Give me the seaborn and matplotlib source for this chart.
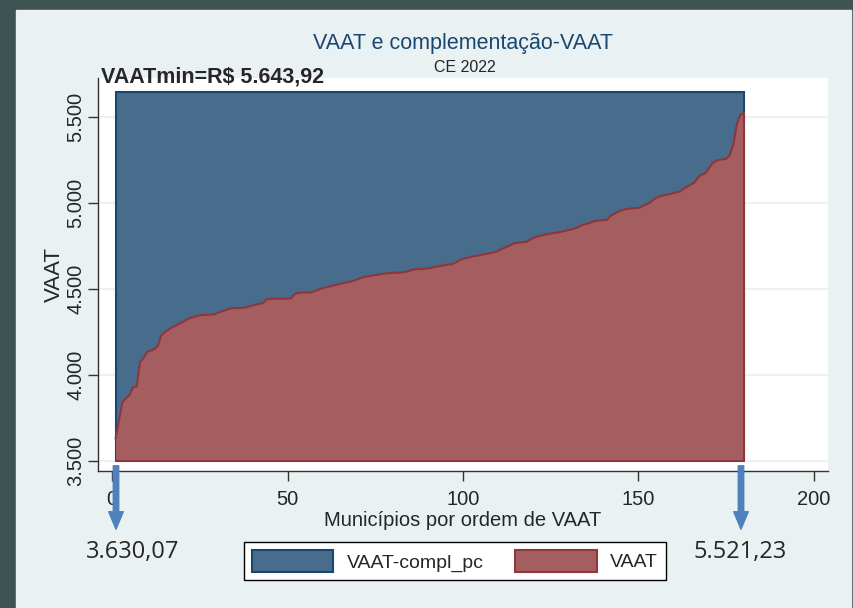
import numpy as np
import pandas as pd
import matplotlib
matplotlib.use("Agg")
import matplotlib.pyplot as plt
import seaborn as sns
from matplotlib.patches import Patch, Rectangle

# Dados: VAAT por município (CE 2022), ordenado
vaat = [
    3630.07, 3740, 3845, 3865, 3884, 3930, 3932, 4077, 4100, 4135,
    4142, 4150, 4168, 4230, 4250, 4262, 4277, 4285, 4298, 4306,
    4318, 4330, 4336, 4342, 4347, 4349, 4350, 4351, 4352, 4360,
    4368, 4375, 4382, 4388, 4389, 4390, 4391, 4392, 4398, 4404,
    4410, 4414, 4418, 4440, 4442, 4443, 4443, 4444, 4444, 4445,
    4446, 4470, 4478, 4479, 4480, 4480, 4482, 4490, 4498, 4505,
    4510, 4515, 4520, 4525, 4530, 4535, 4540, 4543, 4550, 4558,
    4565, 4571, 4574, 4578, 4582, 4585, 4588, 4591, 4592, 4594,
    4595, 4596, 4597, 4602, 4608, 4614, 4616, 4617, 4618, 4620,
    4624, 4628, 4632, 4636, 4640, 4643, 4645, 4655, 4668, 4675,
    4680, 4686, 4691, 4694, 4698, 4702, 4706, 4710, 4714, 4722,
    4732, 4742, 4750, 4760, 4768, 4770, 4772, 4774, 4785, 4796,
    4805, 4810, 4815, 4819, 4823, 4826, 4829, 4833, 4838, 4843,
    4848, 4853, 4862, 4872, 4878, 4884, 4891, 4897, 4899, 4900,
    4902, 4925, 4935, 4948, 4956, 4962, 4966, 4969, 4970, 4971,
    4980, 4990, 4998, 5015, 5030, 5038, 5044, 5049, 5052, 5058,
    5064, 5068, 5085, 5097, 5108, 5120, 5150, 5165, 5172, 5200,
    5230, 5245, 5251, 5254, 5257, 5280, 5337, 5455, 5512, 5521.23,
]
vaat_min = 5643.92
base = 3500
yticks = [3500, 4000, 4500, 5000, 5500]
ytick_labels = ["3.500", "4.000", "4.500", "5.000", "5.500"]
xticks = [0, 50, 100, 150, 200]

df = pd.DataFrame({"ordem": np.arange(1, len(vaat) + 1), "VAAT": vaat})
df["VAATmin"] = vaat_min

azul, azul_borda = "#486c8c", "#1a476f"
verm, verm_borda = "#a55e60", "#90353b"
fundo = "#e9f1f3"

sns.set_style("white")
plt.rcParams["font.family"] = ["Liberation Sans", "DejaVu Sans"]

W, H = 854, 608
fig = plt.figure(figsize=(W / 100, H / 100), dpi=100, facecolor="#3e5452")
fig.patches.append(Rectangle((16 / W, 0), (851 - 16) / W, 1 - 10 / H,
                             transform=fig.transFigure, color=fundo, zorder=-10))

ax = fig.add_axes([98 / W, 1 - 471 / H, (828 - 98) / W, (471 - 78) / H])
ax.set_facecolor("white")

# área VAATmin (complementação) e VAAT
ax.fill_between(df["ordem"], base, df["VAATmin"], color=azul, lw=0, zorder=2)
sns.lineplot(x=df["ordem"], y=df["VAATmin"], color=azul_borda, lw=1.5, ax=ax, zorder=3)
ax.plot([1, 1], [base, vaat_min], color=azul_borda, lw=1.5, zorder=3)
ax.plot([len(vaat), len(vaat)], [base, vaat_min], color=azul_borda, lw=1.5, zorder=3)
ax.fill_between(df["ordem"], base, df["VAAT"], color=verm, lw=0, zorder=4)
sns.lineplot(x=df["ordem"], y=df["VAAT"], color=verm_borda, lw=1.5, ax=ax, zorder=5)
ax.plot([1, len(vaat)], [base, base], color=verm_borda, lw=1.5, zorder=5)
ax.plot([len(vaat), len(vaat)], [base, vaat[-1]], color=verm_borda, lw=1.5, zorder=5)

ax.set_xlim(-4, 204)
ax.set_ylim(3442, 5727)
ax.set_yticks(yticks)
ax.set_yticklabels(ytick_labels, rotation=90, va="center", fontsize=14.5)
ax.set_xticks(xticks)
ax.tick_params(axis="x", labelsize=14.5, length=7, width=1, color="#333333", pad=7)
ax.tick_params(axis="y", length=7, width=1, color="#333333", pad=2, left=True)
ax.tick_params(axis="x", bottom=True)
ax.yaxis.grid(True, color="#eaf2f3", lw=1.5, zorder=0)
for s in ["top", "right"]:
    ax.spines[s].set_visible(False)
for s in ["left", "bottom"]:
    ax.spines[s].set_color("#333333")
    ax.spines[s].set_linewidth(1)

ax.set_xlabel("Municípios por ordem de VAAT", fontsize=14.5, labelpad=1)
ax.set_ylabel("VAAT", fontsize=16, labelpad=1)

fig.text(463 / W, 1 - 43 / H, "VAAT e complementação-VAAT", ha="center", va="center",
         fontsize=15.5, color="#1a476f")
fig.text(465 / W, 1 - 67 / H, "CE 2022", ha="center", va="center", fontsize=11.5)
fig.text(101 / W, 1 - 83 / H, "VAATmin=R$ 5.643,92", ha="left", va="baseline",
         fontsize=15.5, fontweight="bold")

# setas e valores extremos
for x_px, txt, tx in [(116, "3.630,07", 133), (741, "5.521,23", 740)]:
    ax.annotate("", xy=(x_px, H - 532), xytext=(x_px, H - 463), xycoords="figure pixels",
                textcoords="figure pixels", annotation_clip=False,
                arrowprops=dict(arrowstyle="simple,head_length=0.9,head_width=0.75,tail_width=0.28",
                                color="#4f81bd", mutation_scale=14))
    fig.text(tx / W, 1 - 552 / H, txt, ha="center", va="center", fontsize=17,
             family=["Open Sans", "DejaVu Sans"])

handles = [Patch(facecolor=azul, edgecolor=azul_borda, lw=1.5, label="VAAT-compl_pc"),
           Patch(facecolor=verm, edgecolor=verm_borda, lw=1.5, label="VAAT")]
fig.legend(handles=handles, loc="center", bbox_to_anchor=(455 / W, 1 - 561 / H), ncol=2,
           fontsize=14, frameon=True, fancybox=False, edgecolor="black", framealpha=1,
           handlelength=4.2, handleheight=1.4, columnspacing=1.6, borderpad=0.4,
           handletextpad=0.7)

fig.savefig("out.png", dpi=100, facecolor=fig.get_facecolor())
